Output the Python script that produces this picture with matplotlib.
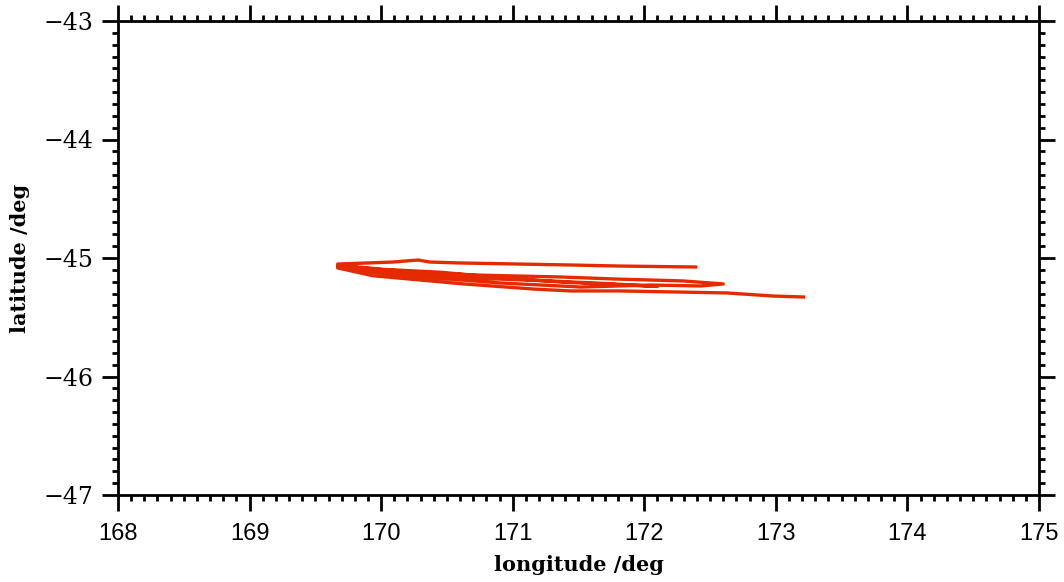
import matplotlib.pyplot as plt
from matplotlib.ticker import MultipleLocator

# track (lon, lat in degrees), in drawing order
lon = [172.39, 171.82, 171.44, 170.60, 170.37, 170.28, 170.09, 169.67,
       169.67, 170.15, 170.68, 171.36, 171.77, 172.30, 172.60,
       172.43, 172.05, 171.52, 170.91, 170.30, 169.84, 169.67,
       169.70, 170.00, 170.45, 170.95, 171.40, 171.80, 172.10,
       171.70, 171.20, 170.70, 170.20, 169.80, 169.68,
       169.67, 169.94, 170.30, 170.63, 171.16, 171.44, 171.82, 172.63, 172.98, 173.21]
lat = [-45.076, -45.068, -45.059, -45.042, -45.034, -45.017, -45.034, -45.051,
       -45.068, -45.110, -45.143, -45.160, -45.177, -45.194, -45.219,
       -45.236, -45.228, -45.245, -45.211, -45.160, -45.110, -45.076,
       -45.062, -45.095, -45.120, -45.170, -45.205, -45.225, -45.240,
       -45.215, -45.190, -45.170, -45.135, -45.095, -45.060,
       -45.084, -45.150, -45.186, -45.219, -45.262, -45.278, -45.278, -45.295, -45.321, -45.329]

xticks = [168, 169, 170, 171, 172, 173, 174, 175]
yticks = [-47, -46, -45, -44, -43]

fig = plt.figure(figsize=(10.64, 5.82), dpi=100)
ax = fig.add_axes([118 / 1064, 1 - 495 / 582, (1039 - 118) / 1064, (495 - 21) / 582])

ax.plot(lon, lat, color="#e62a00", lw=2.4, solid_joinstyle="round")

ax.set_xlim(168, 175)
ax.set_ylim(-47, -43)
ax.set_xticks(xticks)
ax.set_yticks(yticks)
ax.xaxis.set_minor_locator(MultipleLocator(0.1))
ax.yaxis.set_minor_locator(MultipleLocator(0.1))
ax.set_yticklabels(["\u221247", "\u221246", "\u221245", "\u221244", "\u221243"])

for s in ax.spines.values():
    s.set_linewidth(2.0)
ax.tick_params(which="both", direction="out", top=True, right=True, width=2.0)
ax.tick_params(which="major", length=11.5)
ax.tick_params(which="minor", length=4.5)
ax.tick_params(axis="x", which="major", labelsize=17, pad=9)
ax.tick_params(axis="y", which="major", labelsize=17, pad=6)
for t in ax.get_xticklabels():
    t.set_family("Liberation Sans")
for t in ax.get_yticklabels():
    t.set_family("DejaVu Serif")

ax.set_xlabel("longitude /deg", family="DejaVu Serif", fontweight="bold", fontsize=15, labelpad=7)
ax.set_ylabel("latitude /deg", family="DejaVu Serif", fontweight="bold", fontsize=15, labelpad=10)

fig.savefig("out.png", dpi=100)
